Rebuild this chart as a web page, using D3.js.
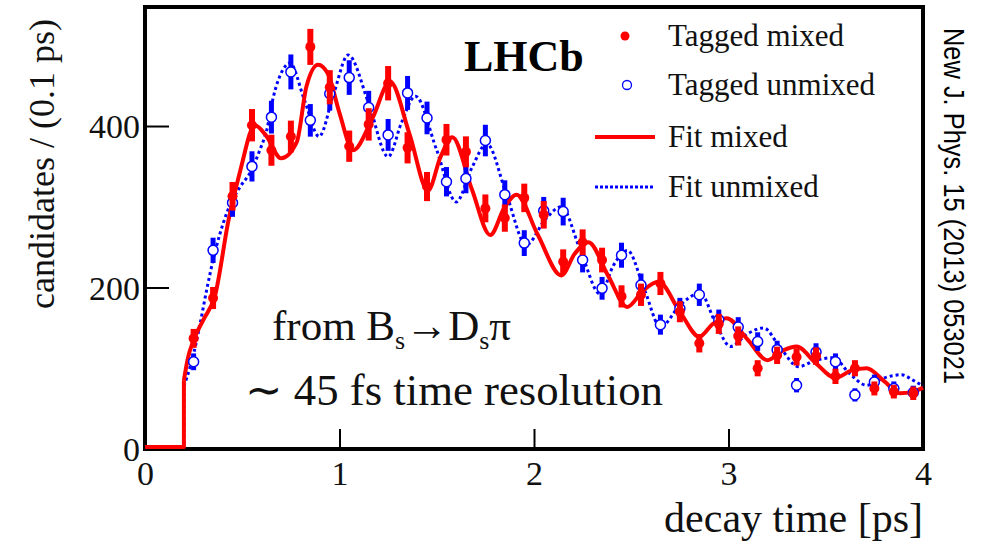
<!DOCTYPE html>
<html><head><meta charset="utf-8">
<script src="https://cdn.jsdelivr.net/npm/d3@7"></script>
<style>body{margin:0;background:#fff}svg{display:block}</style>
</head><body>
<svg id="chart" width="986" height="547"></svg>
<script>
// ---- data ----
const binCenters = [0.25,0.35,0.45,0.55,0.65,0.75,0.85,0.95,1.05,1.15,1.25,1.35,1.45,1.55,1.65,1.75,1.85,1.95,2.05,2.15,2.25,2.35,2.45,2.55,2.65,2.75,2.85,2.95,3.05,3.15,3.25,3.35,3.45,3.55,3.65,3.75,3.85,3.95];
const taggedMixed = [137,187,313,401,370,387,498,448,375,402,453,373,325,383,368,298,286,311,290,232,256,234,189,191,205,170,131,155,140,100,116,114,115,90,100,75,71,69];
const taggedUnmixed = [108,246,305,350,411,467,407,440,460,423,389,441,410,331,335,382,315,255,295,294,234,199,240,203,154,174,191,160,151,133,123,79,120,108,67,83,75,70];
const fitMixedT = [0,0.2,0.2,0.22,0.25,0.3,0.36,0.43,0.49,0.565,0.62,0.70,0.78,0.83,0.89,0.94,1.0,1.07,1.17,1.26,1.36,1.455,1.52,1.58,1.68,1.775,1.85,1.91,2.02,2.14,2.21,2.28,2.38,2.48,2.56,2.64,2.75,2.85,2.92,2.99,3.1,3.2,3.28,3.35,3.45,3.55,3.63,3.71,3.8,3.88,3.95,4.0];
const fitMixedV = [0,0,85,112,135,160,190,284,345,401,389,360,380,449,476,465,416,370,410,455,390,320,362,386,322,265,300,315,265,215,242,256,215,176,196,207,170,139,155,162,135,110,122,127,106,88,97,100,84,69,71,76];
const fitUnmixedT = [0,0.2,0.2,0.23,0.25,0.28,0.317,0.35,0.42,0.49,0.54,0.59,0.626,0.66,0.71,0.745,0.82,0.895,0.97,1.045,1.15,1.25,1.32,1.39,1.5,1.6,1.68,1.757,1.86,1.96,2.06,2.14,2.24,2.34,2.41,2.48,2.57,2.65,2.75,2.855,2.93,3.01,3.1,3.18,3.27,3.36,3.45,3.54,3.62,3.71,3.8,3.89,3.95,4.0];
const fitUnmixedV = [0,0,78,100,118,151,197,234,292,325,342,370,395,436,470,478,432,387,440,488,428,362,405,437,370,306,348,378,314,253,285,300,245,192,228,246,196,151,178,193,158,127,143,150,124,102,110,113,94,79,88,92,85,78];
const xTickLabels = [0,1,2,3,4];
const yTickLabels = [0,200,400];
const legendLabels = ["Tagged mixed","Tagged unmixed","Fit mixed","Fit unmixed"];

// ---- layout ----
const svg = d3.select("#chart");
const L = 145, R = 923, T = 7, B = 449;
const x = d3.scaleLinear().domain([0,4]).range([L,R]);
const y = d3.scaleLinear().domain([0,547.4]).range([B,T]);
const serif = "'Liberation Serif','Times New Roman',serif";
const red = "#ff0000", blue = "#0000ff", ink = "#111";

svg.append("rect").attr("width",986).attr("height",547).attr("fill","#fff");

// ticks (inside)
const gx = svg.append("g").attr("transform",`translate(0,${B})`);
gx.call(d3.axisBottom(x).tickValues(d3.range(0,4.001,0.2)).tickSize(-11).tickFormat(""));
gx.call(d3.axisBottom(x).tickValues(xTickLabels).tickSize(-20).tickFormat(d3.format("d")).tickPadding(16));
gx.selectAll("path.domain").remove();
gx.selectAll("line").attr("stroke","#000").attr("stroke-width",2);
gx.selectAll("text").attr("font-family",serif).attr("font-size",34).attr("fill",ink).attr("dy","0.71em").attr("y",12);

const gy = svg.append("g").attr("transform",`translate(${L},0)`);
gy.call(d3.axisLeft(y).tickValues(d3.range(0,501,50)).tickSize(-14).tickFormat(""));
gy.call(d3.axisLeft(y).tickValues(yTickLabels).tickSize(-24).tickFormat(d3.format("d")).tickPadding(4));
gy.selectAll("path.domain").remove();
gy.selectAll("line").attr("stroke","#000").attr("stroke-width",2);
gy.selectAll("text").attr("font-family",serif).attr("font-size",34).attr("fill",ink).attr("x",-5).attr("dy","0.35em");

// frame
svg.append("rect").attr("x",L).attr("y",T).attr("width",R-L).attr("height",B-T)
  .attr("fill","none").attr("stroke","#000").attr("stroke-width",4);

// fits
function fitPath(T_, V_, color, width, dash){
  const pts = T_.map((t,i)=>[t,V_[i]]);
  const step = d3.line().x(d=>x(d[0])).y(d=>y(d[1])-(d[1]===0?2:0));
  const smooth = d3.line().x(d=>x(d[0])).y(d=>y(d[1])).curve(d3.curveMonotoneX);
  const g = svg.append("g").attr("fill","none").attr("stroke",color).attr("stroke-width",width)
    .attr("stroke-linejoin","round");
  if(dash) g.attr("stroke-dasharray",dash);
  g.append("path").attr("d",step(pts.slice(0,3)));
  g.append("path").attr("d",smooth(pts.slice(2)));
}
fitPath(fitUnmixedT, fitUnmixedV, blue, 3, "3,3");
fitPath(fitMixedT, fitMixedV, red, 4, null);

// data points
function points(vals, color, open){
  const g = svg.append("g");
  const d = binCenters.map((t,i)=>({t, v:vals[i]}));
  g.selectAll("line").data(d).join("line")
    .attr("x1",p=>x(p.t)).attr("x2",p=>x(p.t))
    .attr("y1",p=>y(p.v+Math.sqrt(p.v))).attr("y2",p=>y(p.v-Math.sqrt(p.v)))
    .attr("stroke",color).attr("stroke-width",open?5:6);
  g.selectAll("circle").data(d).join("circle")
    .attr("cx",p=>x(p.t)).attr("cy",p=>y(p.v)).attr("r",5)
    .attr("fill",open?"#fff":color).attr("stroke",color).attr("stroke-width",open?1.5:0);
}
points(taggedUnmixed, blue, true);
points(taggedMixed, red, false);

// axis titles
svg.append("text").attr("x",R).attr("y",532).attr("text-anchor","end")
  .attr("font-family",serif).attr("font-size",42).attr("fill",ink).text("decay time [ps]");
svg.append("text").attr("transform","translate(54,164) rotate(-90)").attr("text-anchor","middle")
  .attr("font-family",serif).attr("font-size",36).attr("fill",ink).text("candidates / (0.1 ps)");

// LHCb
svg.append("text").attr("x",464).attr("y",71).attr("font-family",serif).attr("font-weight","bold")
  .attr("font-size",44).attr("fill","#000").text("LHCb");

// legend
const lg = svg.append("g").attr("font-family",serif).attr("font-size",31).attr("fill",ink);
const rowY = [36, 85, 137, 187];
lg.append("circle").attr("cx",625).attr("cy",rowY[0]).attr("r",4.5).attr("fill",red);
lg.append("circle").attr("cx",627).attr("cy",rowY[1]).attr("r",4.5).attr("fill","#fff").attr("stroke",blue).attr("stroke-width",1.3);
lg.append("line").attr("x1",595).attr("x2",655).attr("y1",rowY[2]).attr("y2",rowY[2]).attr("stroke",red).attr("stroke-width",4);
lg.append("line").attr("x1",595).attr("x2",655).attr("y1",rowY[3]).attr("y2",rowY[3]).attr("stroke",blue).attr("stroke-width",3).attr("stroke-dasharray","3,2");
lg.selectAll("text").data(legendLabels).join("text")
  .attr("x",668).attr("y",(d,i)=>rowY[i]+10).text(d=>d);

// annotations
const a1 = svg.append("text").attr("x",272).attr("y",340).attr("font-family",serif).attr("font-size",43).attr("fill",ink);
a1.append("tspan").text("from B");
a1.append("tspan").attr("font-size",26).attr("dy",9).text("s");
a1.append("tspan").attr("dy",-9).text("\u2192D");
a1.append("tspan").attr("font-size",26).attr("dy",9).text("s");
a1.append("tspan").attr("dy",-9).text("\u03c0");
svg.append("text").attr("x",245).attr("y",405).attr("font-family",serif).attr("font-size",44).attr("fill",ink)
  .attr("textLength",418).attr("lengthAdjust","spacingAndGlyphs")
  .text("\u223c 45 fs time resolution");

// journal reference
svg.append("text").attr("transform","translate(944,28) rotate(90)")
  .attr("font-family","'Liberation Sans Narrow','Liberation Sans',Arial,sans-serif").attr("font-size",29)
  .attr("textLength",356).attr("lengthAdjust","spacingAndGlyphs").attr("fill","#000")
  .text("New J. Phys. 15 (2013) 053021");
</script>
</body></html>
